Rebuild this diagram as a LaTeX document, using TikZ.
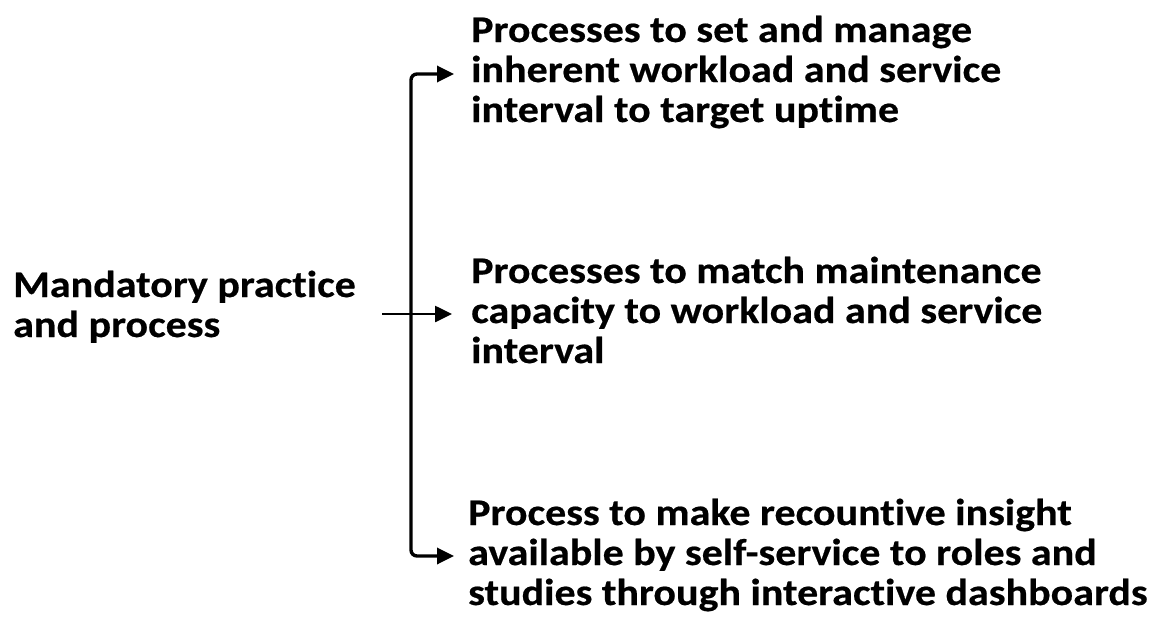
\documentclass[tikz,border=0pt]{standalone}
\usepackage{fontspec}
\setmainfont{Carlito}[Ligatures=NoCommon, FakeStretch=1.12,
  BoldFeatures={FakeBold=0.5}]
\usetikzlibrary{arrows.meta}
\begin{document}
\begin{tikzpicture}[x=1pt,y=-1pt,
  label text/.style={inner sep=0pt, align=left, anchor=base west,
    font=\fontsize{37.5}{40}\selectfont\bfseries},
  link/.style={line width=2.6pt, -{Triangle[length=17pt,width=16pt]}},
  trunk/.style={line width=3.4pt, rounded corners=6pt,
    {Triangle[length=17pt,width=16pt]}-{Triangle[length=17pt,width=16pt]}}]
\useasboundingbox (0,0) rectangle (1163,629);
\fill[white] (0,0) rectangle (1163,629);

% source and targets (anchored at the baseline of the last line)
\node[label text] (src) at (13,337) {Mandatory practice\\and process};
\node[label text] (t1) at (471,122) {Processes to set and manage\\inherent workload and service\\interval to target uptime};
\node[label text] (t2) at (471,363) {Processes to match maintenance\\capacity to workload and service\\interval};
\node[label text] (t3) at (468,605) {Process to make recountive insight\\available by self-service to roles and\\studies through interactive dashboards};

% bracket geometry
\coordinate (tipA) at (454,74);
\coordinate (cTop) at (411,74);
\coordinate (cBot) at (411,556);
\coordinate (tipC) at (454,556);
\coordinate (mStart) at (382,314);
\coordinate (tipB) at (452,314);

\draw[trunk] (tipA) -- (cTop) -- (cBot) -- (tipC);
\draw[link] (mStart) -- (tipB);
\end{tikzpicture}
\end{document}
